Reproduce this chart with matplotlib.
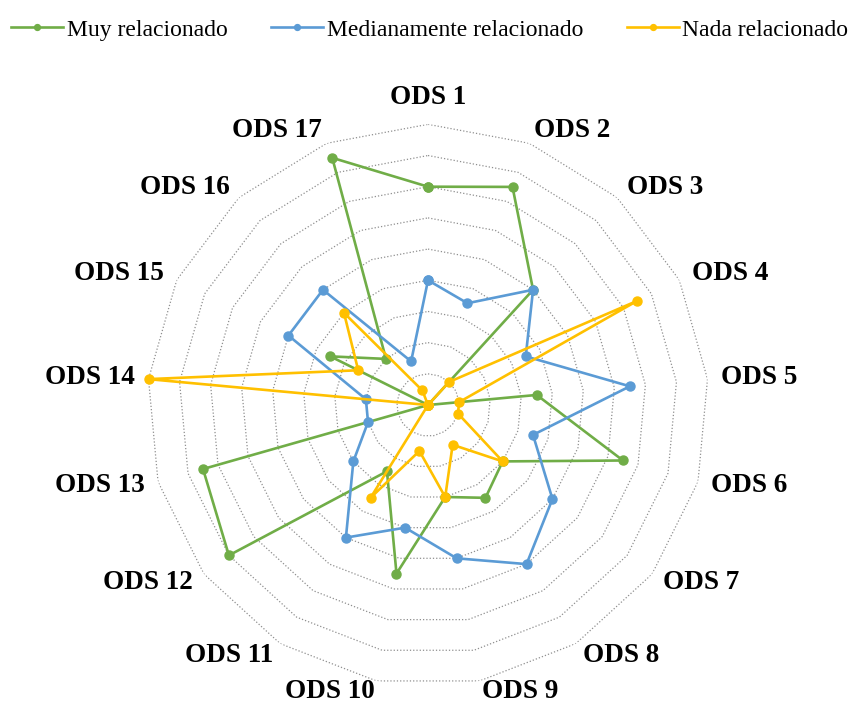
import numpy as np
import matplotlib
matplotlib.use("Agg")
import matplotlib.pyplot as plt

# ODS axes and the three series (grid goes 0..9)
labels = ["ODS %d" % i for i in range(1, 18)]
muy = [7, 7.5, 5, 0, 3.5, 6.5, 3, 3.5, 3, 5.5, 2.5, 8, 7.5, 0, 3.5, 2, 8.5]
medio = [4, 3.5, 5, 3.5, 6.5, 3.5, 5, 6, 5, 4, 5, 3, 2, 2, 5, 5, 1.5]
nada = [0, 0, 1, 7.5, 1, 1, 3, 1.5, 3, 1.5, 3.5, 0, 0, 9, 2.5, 4, 0.5]
series_names = ["Muy relacionado", "Medianamente relacionado", "Nada relacionado"]
levels = list(range(1, 10))

colors = ["#70AD47", "#5B9BD5", "#FFC000"]

plt.rcParams['font.family'] = ['Liberation Serif', 'DejaVu Serif']

fig = plt.figure(figsize=(8.51, 7.02), dpi=100)
ax = fig.add_axes([0.1731, 0.0232, 0.6597, 0.7997], projection='polar')
ax.set_theta_zero_location('N')
ax.set_theta_direction(-1)
ax.set_ylim(0, 9)
ax.grid(False)
ax.set_xticks([])
ax.set_yticks([])
ax.spines['polar'].set_visible(False)

n = len(labels)
theta = np.linspace(0, 2 * np.pi, n, endpoint=False)
theta_c = np.append(theta, theta[0])

# dotted polygon gridlines
for lvl in levels:
    ax.plot(theta_c, [lvl] * (n + 1), color='#8f8f8f', lw=0.9,
            linestyle=(0, (1, 1.6)), zorder=1)

# series
for vals, name, col in zip([muy, medio, nada], series_names, colors):
    v = np.append(vals, vals[0])
    ax.plot(theta_c, v, color=col, lw=1.9, marker='o', markersize=6.5,
            label=name, clip_on=False, zorder=3)

# axis labels
for t, lab in zip(theta, labels):
    s = np.sin(t)
    c = np.cos(t)
    if abs(s) < 0.05:
        ha = 'center'
    elif s > 0:
        ha = 'left'
    else:
        ha = 'right'
    if t == 0:
        ax.text(t, 9.45, lab, ha='center', va='bottom', fontsize=19.5,
                fontweight='bold')
    else:
        r = 9.36 if c < -0.95 else 9.45
        ax.text(t, r, lab, ha=ha, va='center', fontsize=19.5,
                fontweight='bold')

fig.legend(loc='upper center', bbox_to_anchor=(0.505, 1.003), ncol=3,
           frameon=False, fontsize=17, handlelength=2.2, handletextpad=0.15,
           columnspacing=1.85, markerscale=0.65)

fig.savefig("out.png", dpi=100)
